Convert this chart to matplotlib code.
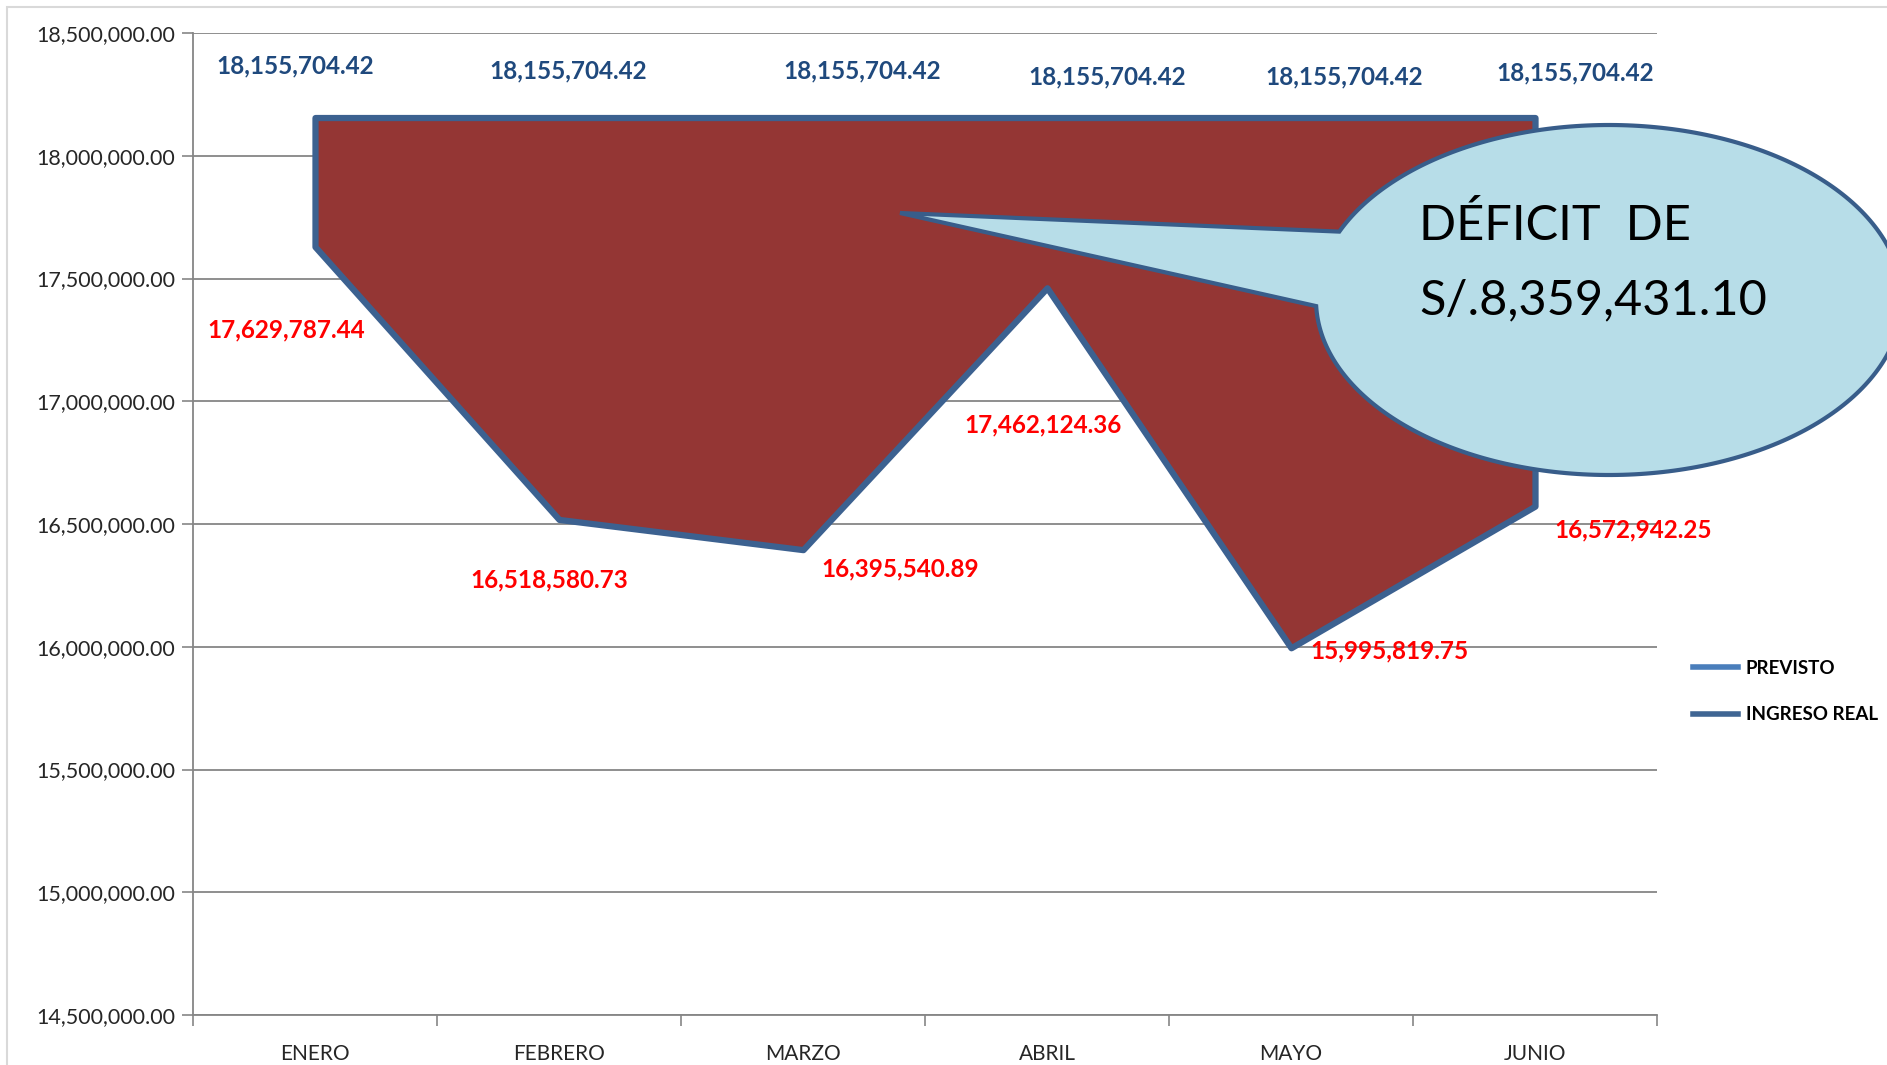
import numpy as np
import matplotlib
matplotlib.use("Agg")
import matplotlib.pyplot as plt
from matplotlib.patches import Polygon, Rectangle
from matplotlib.lines import Line2D
from matplotlib.ticker import FuncFormatter, FixedLocator

plt.rcParams['font.family'] = ['Lato', 'DejaVu Sans']

meses = ['ENERO', 'FEBRERO', 'MARZO', 'ABRIL', 'MAYO', 'JUNIO']
previsto = [18155704.42, 18155704.42, 18155704.42, 18155704.42, 18155704.42, 18155704.42]
ingreso_real = [17629787.44, 16518580.73, 16395540.89, 17462124.36, 15995819.75, 16572942.25]
deficit_txt = ['DÉFICIT  DE', 'S/.8,359,431.10']

W, H = 1887, 1065
fig = plt.figure(figsize=(W / 100, H / 100), dpi=100)
ax = fig.add_axes([193 / W, 1 - 1015 / H, (1657 - 193) / W, (1015 - 33) / H])

x = np.arange(len(meses))
ax.fill_between(x, ingreso_real, previsto, facecolor='#943634', edgecolor='#3C6190',
                linewidth=4.5, zorder=3)

ax.set_xlim(-0.5, len(meses) - 0.5)
ax.set_ylim(14500000, 18500000)
ax.yaxis.set_major_locator(FixedLocator(np.arange(14500000, 18500001, 500000)))
ax.yaxis.set_major_formatter(FuncFormatter(lambda v, p: f'{v:,.2f}'))
ax.set_xticks(x)
ax.set_xticklabels(meses)
ax.set_xticks(np.arange(-0.5, len(meses)), minor=True)
ax.tick_params(axis='x', which='major', length=0, pad=21, labelsize=15, labelcolor='#262626')
ax.tick_params(axis='x', which='minor', length=8, color='#868686', width=1.2)
ax.tick_params(axis='y', length=8, color='#868686', width=1.2, labelsize=15.5,
               labelcolor='#262626', pad=5)
ax.grid(axis='y', color='#868686', linewidth=1.3, zorder=0)
ax.set_axisbelow(True)
for s in ['top', 'right']:
    ax.spines[s].set_visible(False)
for s in ['left', 'bottom']:
    ax.spines[s].set_color('#868686')
    ax.spines[s].set_linewidth(1.3)

# etiquetas de datos
off_prev = [(-20, 52), (9, 47), (59, 47), (60, 41), (53, 41), (40, 45)]
off_real = [(-29, -83), (-10, -60), (97, -19), (-4, -137), (98, -3), (98, -24)]
for i in range(len(meses)):
    ax.annotate(f'{previsto[i]:,.2f}', (x[i], previsto[i]), xytext=off_prev[i],
                textcoords='offset pixels', ha='center', va='center',
                fontsize=17.5, fontweight='bold', color='#1F497D')
    ax.annotate(f'{ingreso_real[i]:,.2f}', (x[i], ingreso_real[i]), xytext=off_real[i],
                textcoords='offset pixels', ha='center', va='center',
                fontsize=17.5, fontweight='bold', color='#FF0000')

# leyenda
handles = [Line2D([], [], color='#4A7EBB', lw=4),
           Line2D([], [], color='#3F6593', lw=4)]
fig.legend(handles, ['PREVISTO', 'INGRESO REAL'], loc='upper left',
           bbox_to_anchor=(1693 / W, 1 - 660 / H), frameon=False,
           prop={'weight': 'bold', 'size': 13.5}, handlelength=2.4,
           handletextpad=0.4, labelspacing=1.55, borderpad=0, borderaxespad=0)

# globo de dialogo
cx, cy, a, b = 1609, 300, 293, 175
ang = np.radians(np.linspace(182, 157 + 360, 300))
pts = [((cx + a * np.cos(t)) / W, 1 - (cy - b * np.sin(t)) / H) for t in ang]
pts.append((900 / W, 1 - 213 / H))
fig.add_artist(Polygon(pts, closed=True, transform=fig.transFigure,
                       facecolor='#B7DDE8', edgecolor='#385D8A', linewidth=3, zorder=5))
fig.text(1419 / W, 1 - 240 / H, deficit_txt[0], fontsize=35, va='baseline', zorder=6)
fig.text(1419 / W, 1 - 314 / H, deficit_txt[1], fontsize=35, va='baseline', zorder=6)

# borde del grafico
fig.add_artist(Rectangle((7 / W, -0.1), 1.2, (H - 7) / H + 0.1, fill=False,
                         edgecolor='#D9D9D9', linewidth=1.5, transform=fig.transFigure))

fig.savefig('out.png', dpi=100)
